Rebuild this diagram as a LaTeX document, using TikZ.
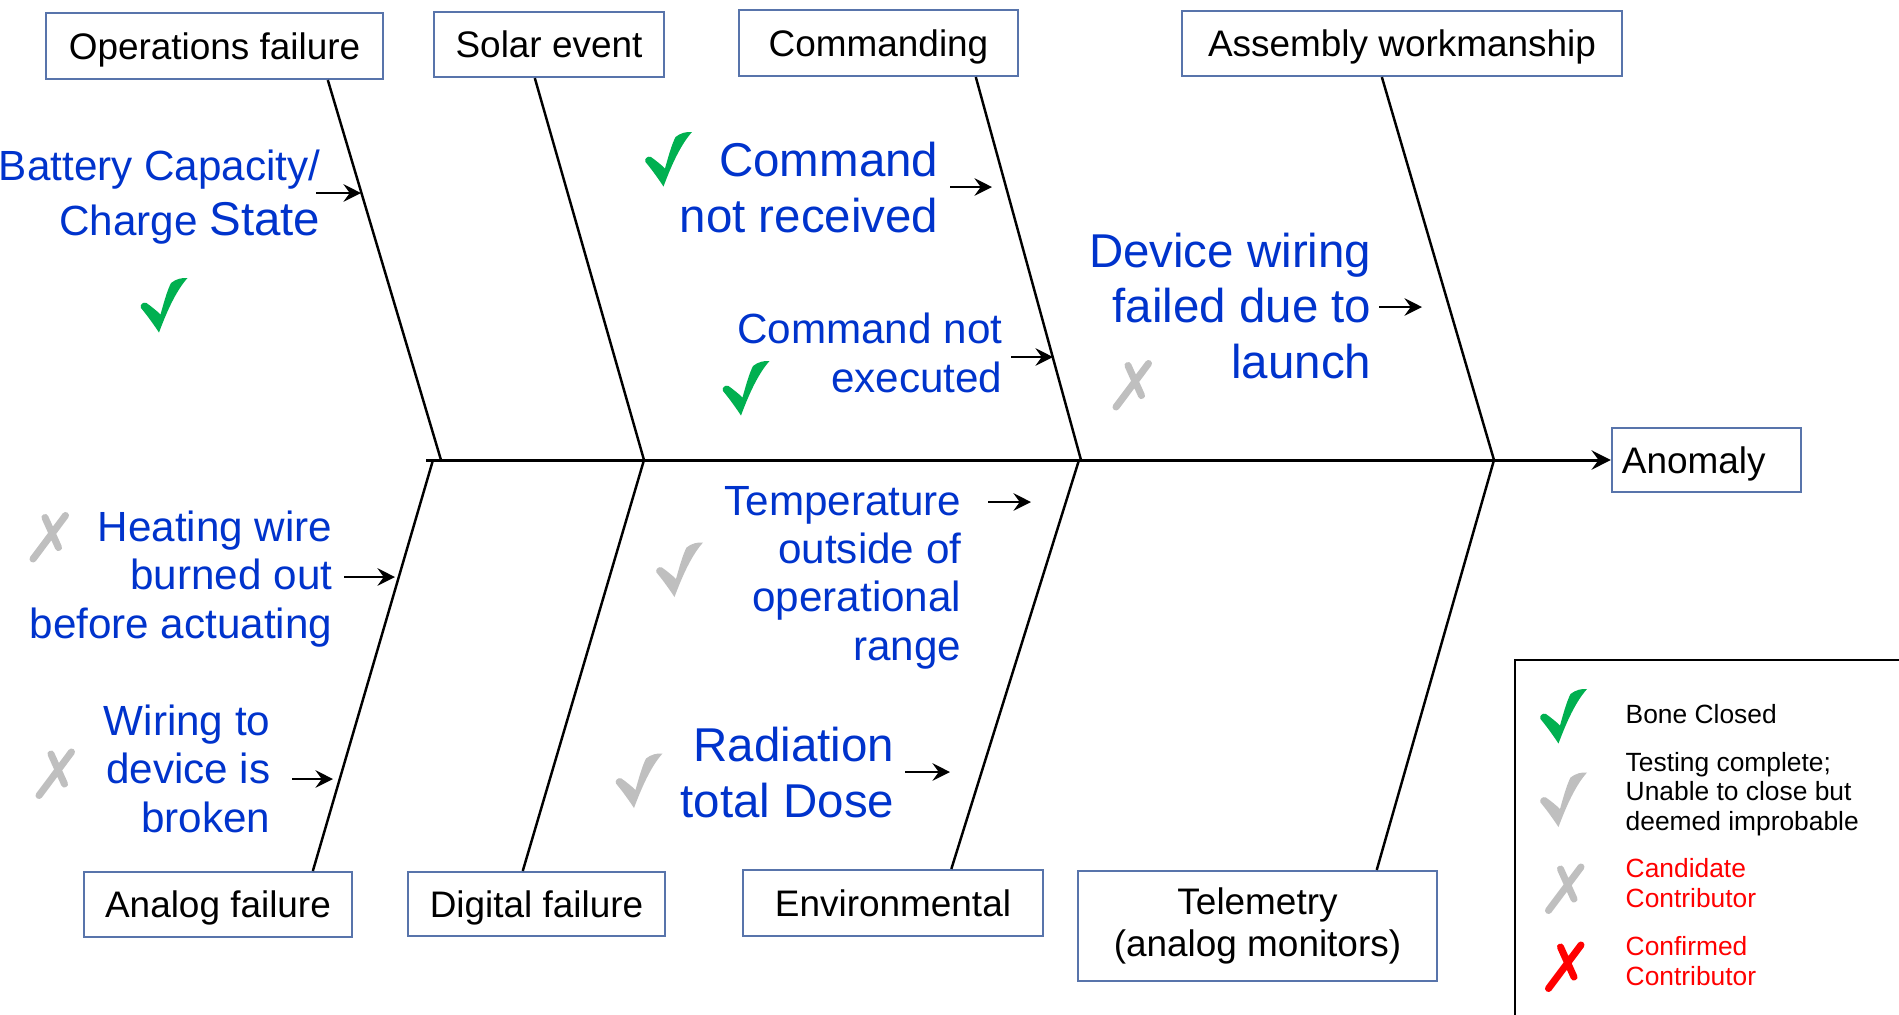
\documentclass[tikz,border=0pt]{standalone}
\usepackage{fontspec}
\setmainfont{Liberation Sans}
\usetikzlibrary{arrows.meta,calc}
\definecolor{boxblue}{RGB}{88,116,171}
\definecolor{causeblue}{RGB}{0,51,204}
\definecolor{okgreen}{RGB}{0,176,80}
\definecolor{markgray}{RGB}{191,191,191}
\begin{document}
\begin{tikzpicture}[x=0.01cm,y=-0.01cm]
	\tikzset{BoxStyle/.style = {draw=boxblue,line width=0.6pt,inner sep=0pt,align=center,font=\fontsize{10.5}{12}\selectfont}}
	\tikzset{OneLine/.style = {BoxStyle,text height=7.5pt,text depth=0pt}}
	\tikzset{CauseStyle/.style = {text=causeblue,inner sep=0pt,align=right,anchor=base east}}
	\tikzset{BigCause/.style = {CauseStyle,font=\fontsize{13.5}{15.7}\selectfont}}
	\tikzset{SmallCause/.style = {CauseStyle,font=\fontsize{12}{13.7}\selectfont}}
	\tikzset{NoteStyle/.style = {inner sep=0pt,align=left,anchor=base west,font=\fontsize{7.5}{8.3}\selectfont}}
	\tikzset{BoneStyle/.style = {line width=0.7pt}}
	\tikzset{EdgeStyle/.style = {line width=0.6pt,-{Stealth[length=5pt,width=5pt,inset=1.8pt]}}}
	\tikzset{pics/okmark/.style = {code={
		\fill (-5,27.5) .. controls (-12,17) and (-18,9) .. (-23,3)
			.. controls (-24.5,0) and (-21,-3.5) .. (-17.5,-2)
			.. controls (-12,2) and (-7,6) .. (-3.5,9.5)
			.. controls (0,-3) and (3,-14) .. (7,-22)
			.. controls (12,-26) and (18,-27.5) .. (23.5,-27)
			.. controls (12,-14) and (3,6) .. (-5,27.5) -- cycle;}}}
	\tikzset{pics/nomark/.style = {code={
		\draw[line width=2pt,line cap=round] (15.5,-21.5) -- (-17,22) (-5,-19.5) -- (8.5,10.5);}}}
	\useasboundingbox (0,0) rectangle (1899,1014);
	% categories
	\node[OneLine,minimum width=3.37cm,minimum height=0.66cm] (ops) at (214.5,46) {Operations failure};
	\node[OneLine,minimum width=2.30cm,minimum height=0.65cm] (sol) at (549,44.5) {Solar event};
	\node[OneLine,minimum width=2.79cm,minimum height=0.66cm] (cmd) at (878.5,43) {Commanding};
	\node[OneLine,minimum width=4.40cm,minimum height=0.65cm] (asm) at (1402,43.5) {Assembly workmanship};
	\node[OneLine,minimum width=2.68cm,minimum height=0.65cm] (ana) at (218,904.5) {Analog failure};
	\node[OneLine,minimum width=2.57cm,minimum height=0.64cm] (dig) at (536.5,904) {Digital failure};
	\node[OneLine,minimum width=3.00cm,minimum height=0.66cm] (env) at (893,903) {Environmental};
	\node[BoxStyle,minimum width=3.59cm,minimum height=1.10cm] (tel) at (1257.5,926) {Telemetry\\(analog monitors)};
	\node[OneLine,minimum width=1.89cm,minimum height=0.64cm,text width=1.69cm,align=left] (anom) at (1706.5,460) {Anomaly};
	% spine
	\coordinate (tail) at (426,460);
	\coordinate (j1) at (441,460);
	\coordinate (k1) at (433,460);
	\coordinate (j2) at (644,460);
	\coordinate (j3) at (1081,460);
	\coordinate (k3) at (1079,460);
	\coordinate (j4) at (1494,460);
	\draw[BoneStyle,line width=0.85pt,-{Stealth[length=5.5pt,width=5.5pt,inset=2pt]}] (tail) -- (anom.west);
	% bones
	\draw[BoneStyle] ($(ops.south west)!.834!(ops.south east)$) -- (j1);
	\draw[BoneStyle] ($(sol.south west)!.439!(sol.south east)$) -- (j2);
	\draw[BoneStyle] ($(cmd.south west)!.846!(cmd.south east)$) -- (j3);
	\draw[BoneStyle] ($(asm.south west)!.4545!(asm.south east)$) -- (j4);
	\draw[BoneStyle] (k1) -- ($(ana.north west)!.851!(ana.north east)$);
	\draw[BoneStyle] (j2) -- ($(dig.north west)!.447!(dig.north east)$);
	\draw[BoneStyle] (k3) -- ($(env.north west)!.693!(env.north east)$);
	\draw[BoneStyle] (j4) -- ($(tel.north west)!.83!(tel.north east)$);
	% causes (placed by their last baseline)
	\node[SmallCause,font=\fontsize{12}{15.6}\selectfont] (bat) at (321,235) {Battery Capacity/\\Charge {\fontsize{13.5}{15.6}\selectfont State}};
	\node[BigCause] (rec) at (939,232) {Command\\not received};
	\node[SmallCause] (exe) at (1003,392) {Command not\\executed};
	\node[BigCause] (dev) at (1372,378) {Device wiring\\failed due to\\launch};
	\node[SmallCause] (heat) at (333,638) {Heating wire\\burned out\\before actuating};
	\node[SmallCause] (wire) at (271,832) {Wiring to\\device is\\broken};
	\node[SmallCause] (temp) at (962,660) {Temperature\\outside of\\operational\\range};
	\node[BigCause] (rad) at (895,817) {Radiation\\total Dose};
	\draw[EdgeStyle] ($(bat.base east)+(-5,-42)$) -- ++(45,0);
	\draw[EdgeStyle] ($(rec.base east)+(11,-45)$) -- ++(42,0);
	\draw[EdgeStyle] ($(exe.base east)+(8,-35)$) -- ++(42,0);
	\draw[EdgeStyle] ($(dev.base east)+(7,-71)$) -- ++(43,0);
	\draw[EdgeStyle] ($(heat.base east)+(11,-61)$) -- ++(51,0);
	\draw[EdgeStyle] ($(wire.base east)+(21,-53)$) -- ++(41,0);
	\draw[EdgeStyle] ($(temp.base east)+(26,-158)$) -- ++(43,0);
	\draw[EdgeStyle] ($(rad.base east)+(10,-45)$) -- ++(45,0);
	% marks
	\pic[okgreen] at (164,305) {okmark};
	\pic[okgreen] at (668.5,159) {okmark};
	\pic[okgreen] at (746,388) {okmark};
	\pic[markgray] at (1133,385) {nomark};
	\pic[markgray] at (50,537) {nomark};
	\pic[markgray] at (56,773.5) {nomark};
	\pic[markgray] at (679.5,569.5) {okmark};
	\pic[markgray] at (639,780.5) {okmark};
	% legend
	\draw[line width=0.7pt] (1515,1030) -- (1515,660) -- (1910,660);
	\pic[okgreen] at (1563.5,716) {okmark};
	\pic[markgray] at (1563.5,799.5) {okmark};
	\pic[markgray] at (1565.5,888.5) {nomark};
	\pic[red,line width=2.3pt] at (1565.5,966.5) {nomark};
	\node[NoteStyle] (n1) at (1625,723) {Bone Closed};
	\node[NoteStyle] (n2) at (1625,830) {Testing complete;\\Unable to close but\\deemed improbable};
	\node[NoteStyle,text=red] (n3) at (1625,907) {Candidate\\Contributor};
	\node[NoteStyle,text=red] (n4) at (1625,985) {Confirmed\\Contributor};
\end{tikzpicture}
\end{document}
